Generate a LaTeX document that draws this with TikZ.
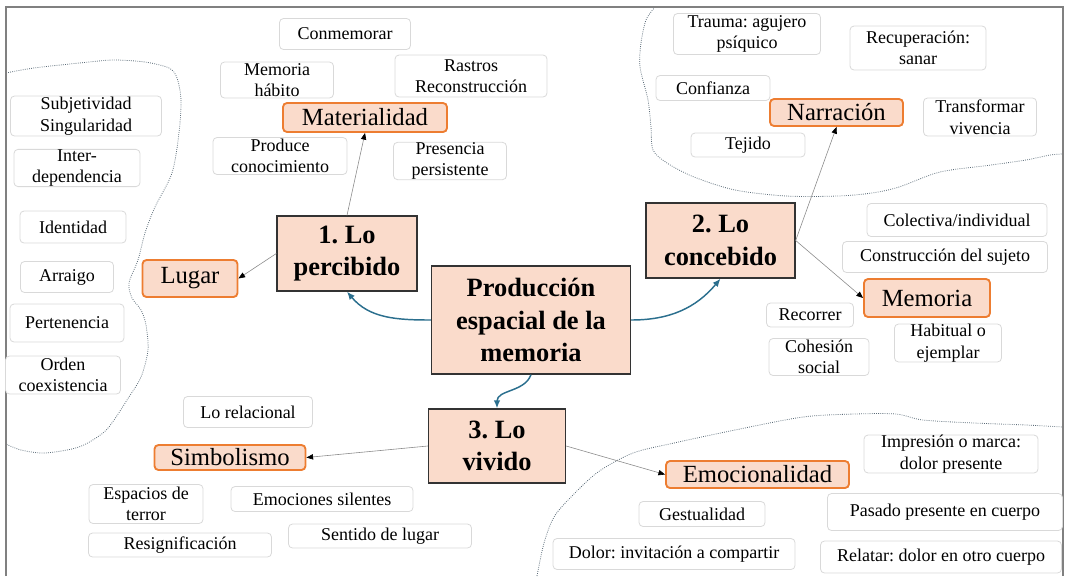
\documentclass[tikz,border=0pt]{standalone}
\usepackage{fontspec}
\setmainfont{Liberation Serif}
\usetikzlibrary{arrows.meta}
\definecolor{peche}{HTML}{FADBCB}
\definecolor{orangebord}{HTML}{ED7D31}
\definecolor{bleufleche}{HTML}{2B6F8E}
\definecolor{gristrait}{HTML}{D9D9D9}
\definecolor{pointille}{HTML}{5B6B78}
\frenchspacing

\begin{document}
\begin{tikzpicture}[x=0.75pt,y=-0.75pt]
\tikzset{etiq/.style 2 args={draw=gristrait, line width=0.6pt, rounded corners=3pt, fill=white, align=center, inner sep=0pt, minimum width=#1*0.75pt, minimum height=#2*0.75pt, font=\fontsize{13.5}{16.2}\selectfont},
concept/.style 2 args={draw=orangebord, line width=1.4pt, rounded corners=3pt, fill=peche, inner sep=0pt, minimum width=#1*0.75pt, minimum height=#2*0.75pt, font=\fontsize{18.5}{22}\selectfont},
niveau/.style 2 args={draw=black!80, line width=1pt, fill=peche, align=center, inner sep=0pt, minimum width=#1*0.75pt, minimum height=#2*0.75pt, font=\bfseries\fontsize{19.8}{24.4}\selectfont},
lien/.style={draw=black!45, line width=0.45pt, -{Triangle[length=5pt,width=4pt,black]}},
fleche/.style={draw=bleufleche, line width=1.1pt, -{Latex[length=6pt,width=5pt]}},
frontiere/.style={draw=pointille, densely dotted, line width=0.6pt}}
\useasboundingbox (0,0) rectangle (1066,576);
\draw[frontiere] plot[smooth] coordinates {(6,73) (34,68) (89,62) (114,60) (145,62) (169,68) (177,78) (181,100) (179,133) (172,173) (155,207) (145,233) (138,260) (129,283) (132,298) (141,310) (146,325) (148,350) (141,377) (127,400) (114,420) (103,433) (79,447) (45,453) (21,450) (6,444)};
\draw[frontiere] plot[smooth] coordinates {(655,7) (646,20) (641,43) (640,67) (648,100) (651,127) (653,150) (667,163) (694,177) (735,190) (786,196) (838,196) (872,193) (899,187) (940,172) (991,165) (1026,160) (1050,155) (1063,154)};
\draw[frontiere] plot[smooth] coordinates {(537,576) (544,543) (554,517) (571,497) (598,472) (633,453) (674,443) (735,430) (803,417) (855,414) (896,414) (923,420) (974,423) (1026,425) (1063,427)};
\draw[black!50, line width=1.5pt] (6,576) -- (6,7) -- (1063,7) -- (1063,576);

\node[etiq={131}{31}] (E1) at (345,34) {Conmemorar};
\node[etiq={113}{36}] (E2) at (277,80) {Memoria\\hábito};
\node[etiq={152}{42}] (E3) at (471,76) {Rastros\\Reconstrucción};
\node[etiq={134}{37}] (E4) at (280,156) {Produce\\conocimiento};
\node[etiq={113}{37}] (E5) at (450,161) {Presencia\\persistente};
\node[etiq={151}{40}] (E6) at (86,116) {Subjetividad\\Singularidad};
\node[etiq={126}{37}] (E7) at (77,168) {Inter-\\dependencia};
\node[etiq={106}{32}] (E8) at (73,227) {Identidad};
\node[etiq={93}{31}] (E9) at (67,277) {Arraigo};
\node[etiq={114}{38}] (E10) at (67,323) {Pertenencia};
\node[etiq={115}{38}] (E11) at (63,375) {Orden\\coexistencia};
\node[etiq={129}{31}] (E12) at (248,412) {Lo relacional};
\node[etiq={114}{39}] (E13) at (146,504) {Espacios de\\terror};
\node[etiq={182}{25}] (E14) at (322,499) {Emociones silentes};
\node[etiq={183}{24}] (E15) at (180,545) {Resignificación};
\node[etiq={183}{24}] (E16) at (380,536) {Sentido de lugar};
\node[etiq={147}{41}] (E17) at (747,34) {Trauma: agujero\\psíquico};
\node[etiq={136}{44}] (E18) at (918,48) {Recuperación:\\sanar};
\node[etiq={114}{25}] (E19) at (713,88) {Confianza};
\node[etiq={113}{38}] (E20) at (980,117) {Transformar\\vivencia};
\node[etiq={114}{24}] (E21) at (748,145) {Tejido};
\node[etiq={180}{33}] (E22) at (957,220) {Colectiva/individual};
\node[etiq={205}{31}] (E23) at (945,257) {Construcción del sujeto};
\node[etiq={87}{24}] (E24) at (810,315) {Recorrer};
\node[etiq={100}{37}] (E25) at (819,357) {Cohesión\\social};
\node[etiq={107}{37}] (E26) at (948,343) {Habitual o\\ejemplar};
\node[etiq={174}{36}] (E27) at (951,454) {Impresión o marca:\\dolor presente};
\node[etiq={126}{25}] (E28) at (702,514) {Gestualidad};
\node[etiq={235}{37}] (E29) at (945,512) {Pasado presente en cuerpo};
\node[etiq={242}{31}] (E30) at (674,554) {Dolor: invitación a compartir};
\node[etiq={241}{32}] (E31) at (941,557) {Relatar: dolor en otro cuerpo};

\node[concept={164}{29}] (Mat) at (365,117.5) {Materialidad};
\node[concept={95}{37}] (Lug) at (190,278.5) {Lugar};
\node[concept={133}{27}] (Nar) at (836.5,112.5) {Narración};
\node[concept={126}{38}] (Mem) at (927,298) {Memoria};
\node[concept={151}{25}] (Sim) at (230,457.5) {Simbolismo};
\node[concept={183}{27}] (Emo) at (757.5,474.5) {Emocionalidad};

\node[niveau={199}{108}] (P) at (531,320) {Producción\\espacial de la\\memoria};
\node[niveau={140}{75}] (N1) at (347,253.5) {1. Lo\\percibido};
\node[niveau={149}{75}] (N2) at (720.5,240.5) {2. Lo\\concebido};
\node[niveau={137}{74}] (N3) at (497,446) {3. Lo\\vivido};

\draw[fleche] (P.west) to[out=180, in=-50] (N1.south);
\draw[fleche] (P.east) to[out=0, in=-130] (N2.south);
\draw[fleche] (P.south) to[out=-110, in=90] (N3.north);
\draw[lien] (N1.north) -- (Mat.south);
\draw[lien] (N1.west) -- (Lug.east);
\draw[lien] (N2.east) -- (Nar.south);
\draw[lien] (N2.east) -- (Mem.west);
\draw[lien] (N3.west) -- (Sim.east);
\draw[lien] (N3.east) -- (Emo.west);
\end{tikzpicture}
\end{document}
